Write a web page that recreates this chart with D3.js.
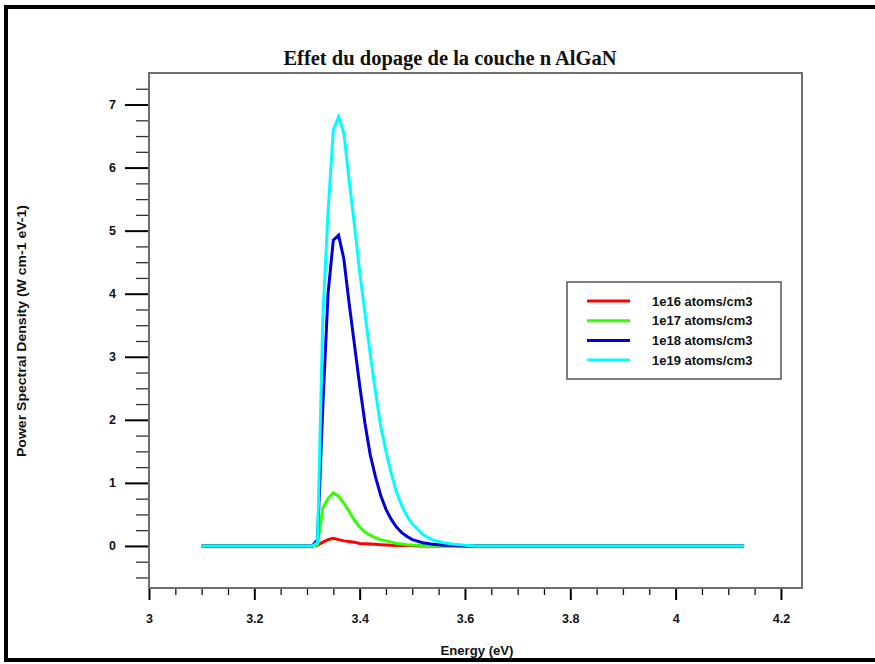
<!DOCTYPE html>
<html><head><meta charset="utf-8">
<script src="https://cdn.jsdelivr.net/npm/d3@7"></script>
<style>body{margin:0;background:#fff}svg{display:block}</style>
</head><body>
<svg id="c" width="875" height="664"></svg>
<script>
const energy = [3.10,3.31,3.32,3.33,3.34,3.35,3.36,3.37,3.38,3.39,3.40,3.41,3.42,3.43,3.44,3.45,3.46,3.47,3.48,3.49,3.50,3.52,3.54,3.56,3.58,3.60,3.62,4.13];
const psd1e16 = [0,0,0.01,0.06,0.10,0.12,0.10,0.08,0.07,0.06,0.04,0.035,0.03,0.025,0.02,0.015,0.01,0.008,0.006,0.005,0.004,0,0,0,0,0,0,0];
const psd1e17 = [0,0,0.02,0.60,0.75,0.84,0.79,0.68,0.55,0.41,0.30,0.22,0.17,0.13,0.10,0.08,0.06,0.04,0.03,0.02,0.015,0.008,0.003,0,0,0,0,0];
const psd1e18 = [0,0,0.10,2.20,4.00,4.85,4.93,4.55,3.85,3.20,2.55,1.95,1.45,1.10,0.80,0.58,0.42,0.30,0.21,0.15,0.10,0.05,0.025,0.012,0.005,0,0,0];
const psd1e19 = [0,0,0.05,3.60,5.30,6.60,6.80,6.55,5.80,5.10,4.35,3.70,3.05,2.45,1.90,1.50,1.15,0.85,0.64,0.47,0.35,0.18,0.09,0.05,0.025,0.01,0,0];
const seriesNames = ["1e16 atoms/cm3","1e17 atoms/cm3","1e18 atoms/cm3","1e19 atoms/cm3"];
const seriesColors = ["#ff0000","#33ff00","#0000dd","#00ffff"];
const xMajorTicks = [3,3.2,3.4,3.6,3.8,4,4.2];
const yMajorTicks = [0,1,2,3,4,5,6,7];
const titleText = "Effet du dopage de la couche n AlGaN";
const xLabel = "Energy (eV)";
const yLabel = "Power Spectral Density (W cm-1 eV-1)";

const allSeries = [psd1e16, psd1e17, psd1e18, psd1e19];
const svg = d3.select("#c");

// outer frame
svg.append("rect").attr("x",6).attr("y",7).attr("width",900).attr("height",653)
  .attr("fill","none").attr("stroke","#000").attr("stroke-width",4);

const L=149, R=802, T=73, B=588;
const x = d3.scaleLinear().domain([3,4.24]).range([L,R]);
const y = d3.scaleLinear().domain([-0.667,7.5]).range([B,T]);

const xMinor = d3.range(3.05,4.24,0.05).filter(v=>Math.abs(v*5-Math.round(v*5))>1e-6);
const yMinor = d3.range(-0.5,7.5,0.25).filter(v=>Math.abs(v-Math.round(v))>1e-6);

const sans = "Liberation Sans, Arial, sans-serif";

// minor ticks
svg.append("g").attr("transform",`translate(0,${B})`)
  .call(d3.axisBottom(x).tickValues(xMinor).tickSize(7).tickFormat(""))
  .call(g=>g.select(".domain").remove())
  .call(g=>g.selectAll("line").attr("stroke","#111").attr("stroke-width",1.3));
svg.append("g").attr("transform",`translate(${L},0)`)
  .call(d3.axisLeft(y).tickValues(yMinor).tickSize(13).tickFormat(""))
  .call(g=>g.select(".domain").remove())
  .call(g=>g.selectAll("line").attr("stroke","#333").attr("stroke-width",1.3));

// major ticks
svg.append("g").attr("transform",`translate(0,${B})`)
  .call(d3.axisBottom(x).tickValues(xMajorTicks).tickSize(12).tickPadding(14).tickFormat(d3.format("~g")))
  .call(g=>g.select(".domain").remove())
  .call(g=>g.selectAll("line").attr("stroke","#000").attr("stroke-width",2))
  .call(g=>g.selectAll("text").attr("font-family",sans)
     .attr("font-weight","bold").attr("font-size",12.5).attr("fill","#111"));
svg.append("g").attr("transform",`translate(${L},0)`)
  .call(d3.axisLeft(y).tickValues(yMajorTicks).tickSize(24).tickPadding(9).tickFormat(d3.format("d")))
  .call(g=>g.select(".domain").remove())
  .call(g=>g.selectAll("line").attr("stroke","#000").attr("stroke-width",2))
  .call(g=>g.selectAll("text").attr("font-family",sans)
     .attr("font-weight","bold").attr("font-size",12.5).attr("fill","#111"));

// plot box
svg.append("rect").attr("x",L).attr("y",T).attr("width",R-L).attr("height",B-T)
  .attr("fill","none").attr("stroke","#6e6e6e").attr("stroke-width",2);

// lines
const line = d3.line().x((d,i)=>x(energy[i])).y(d=>y(d));
allSeries.forEach((s,k)=>{
  svg.append("path").datum(s).attr("d",line).attr("fill","none")
    .attr("stroke",seriesColors[k]).attr("stroke-width",3).attr("stroke-linejoin","miter");
});

// title and axis titles
svg.append("text").attr("x",450).attr("y",65).attr("text-anchor","middle")
  .attr("font-family","Liberation Serif, Times New Roman, serif").attr("font-weight","bold")
  .attr("font-size",20.5).attr("fill","#111").text(titleText);
svg.append("text").attr("x",477).attr("y",655).attr("text-anchor","middle")
  .attr("font-family",sans).attr("font-weight","bold")
  .attr("font-size",12.5).attr("textLength",73).attr("lengthAdjust","spacingAndGlyphs")
  .attr("fill","#111").text(xLabel);
svg.append("text").attr("transform","translate(26,331) rotate(-90)").attr("text-anchor","middle")
  .attr("font-family",sans).attr("font-weight","bold")
  .attr("font-size",12.5).attr("textLength",252).attr("lengthAdjust","spacingAndGlyphs")
  .attr("fill","#111").text(yLabel);

// legend
const lg = svg.append("g");
lg.append("rect").attr("x",567).attr("y",282).attr("width",214).attr("height",97)
  .attr("fill","#fff").attr("stroke","#555").attr("stroke-width",1.5);
seriesNames.forEach((n,k)=>{
  const yy = 301 + k*19.7;
  lg.append("line").attr("x1",587).attr("x2",630).attr("y1",yy).attr("y2",yy)
    .attr("stroke",seriesColors[k]).attr("stroke-width",3);
  lg.append("text").attr("x",652).attr("y",yy+4.5)
    .attr("font-family",sans).attr("font-weight","bold")
    .attr("font-size",13).attr("fill","#111").text(n);
});
</script>
</body></html>
